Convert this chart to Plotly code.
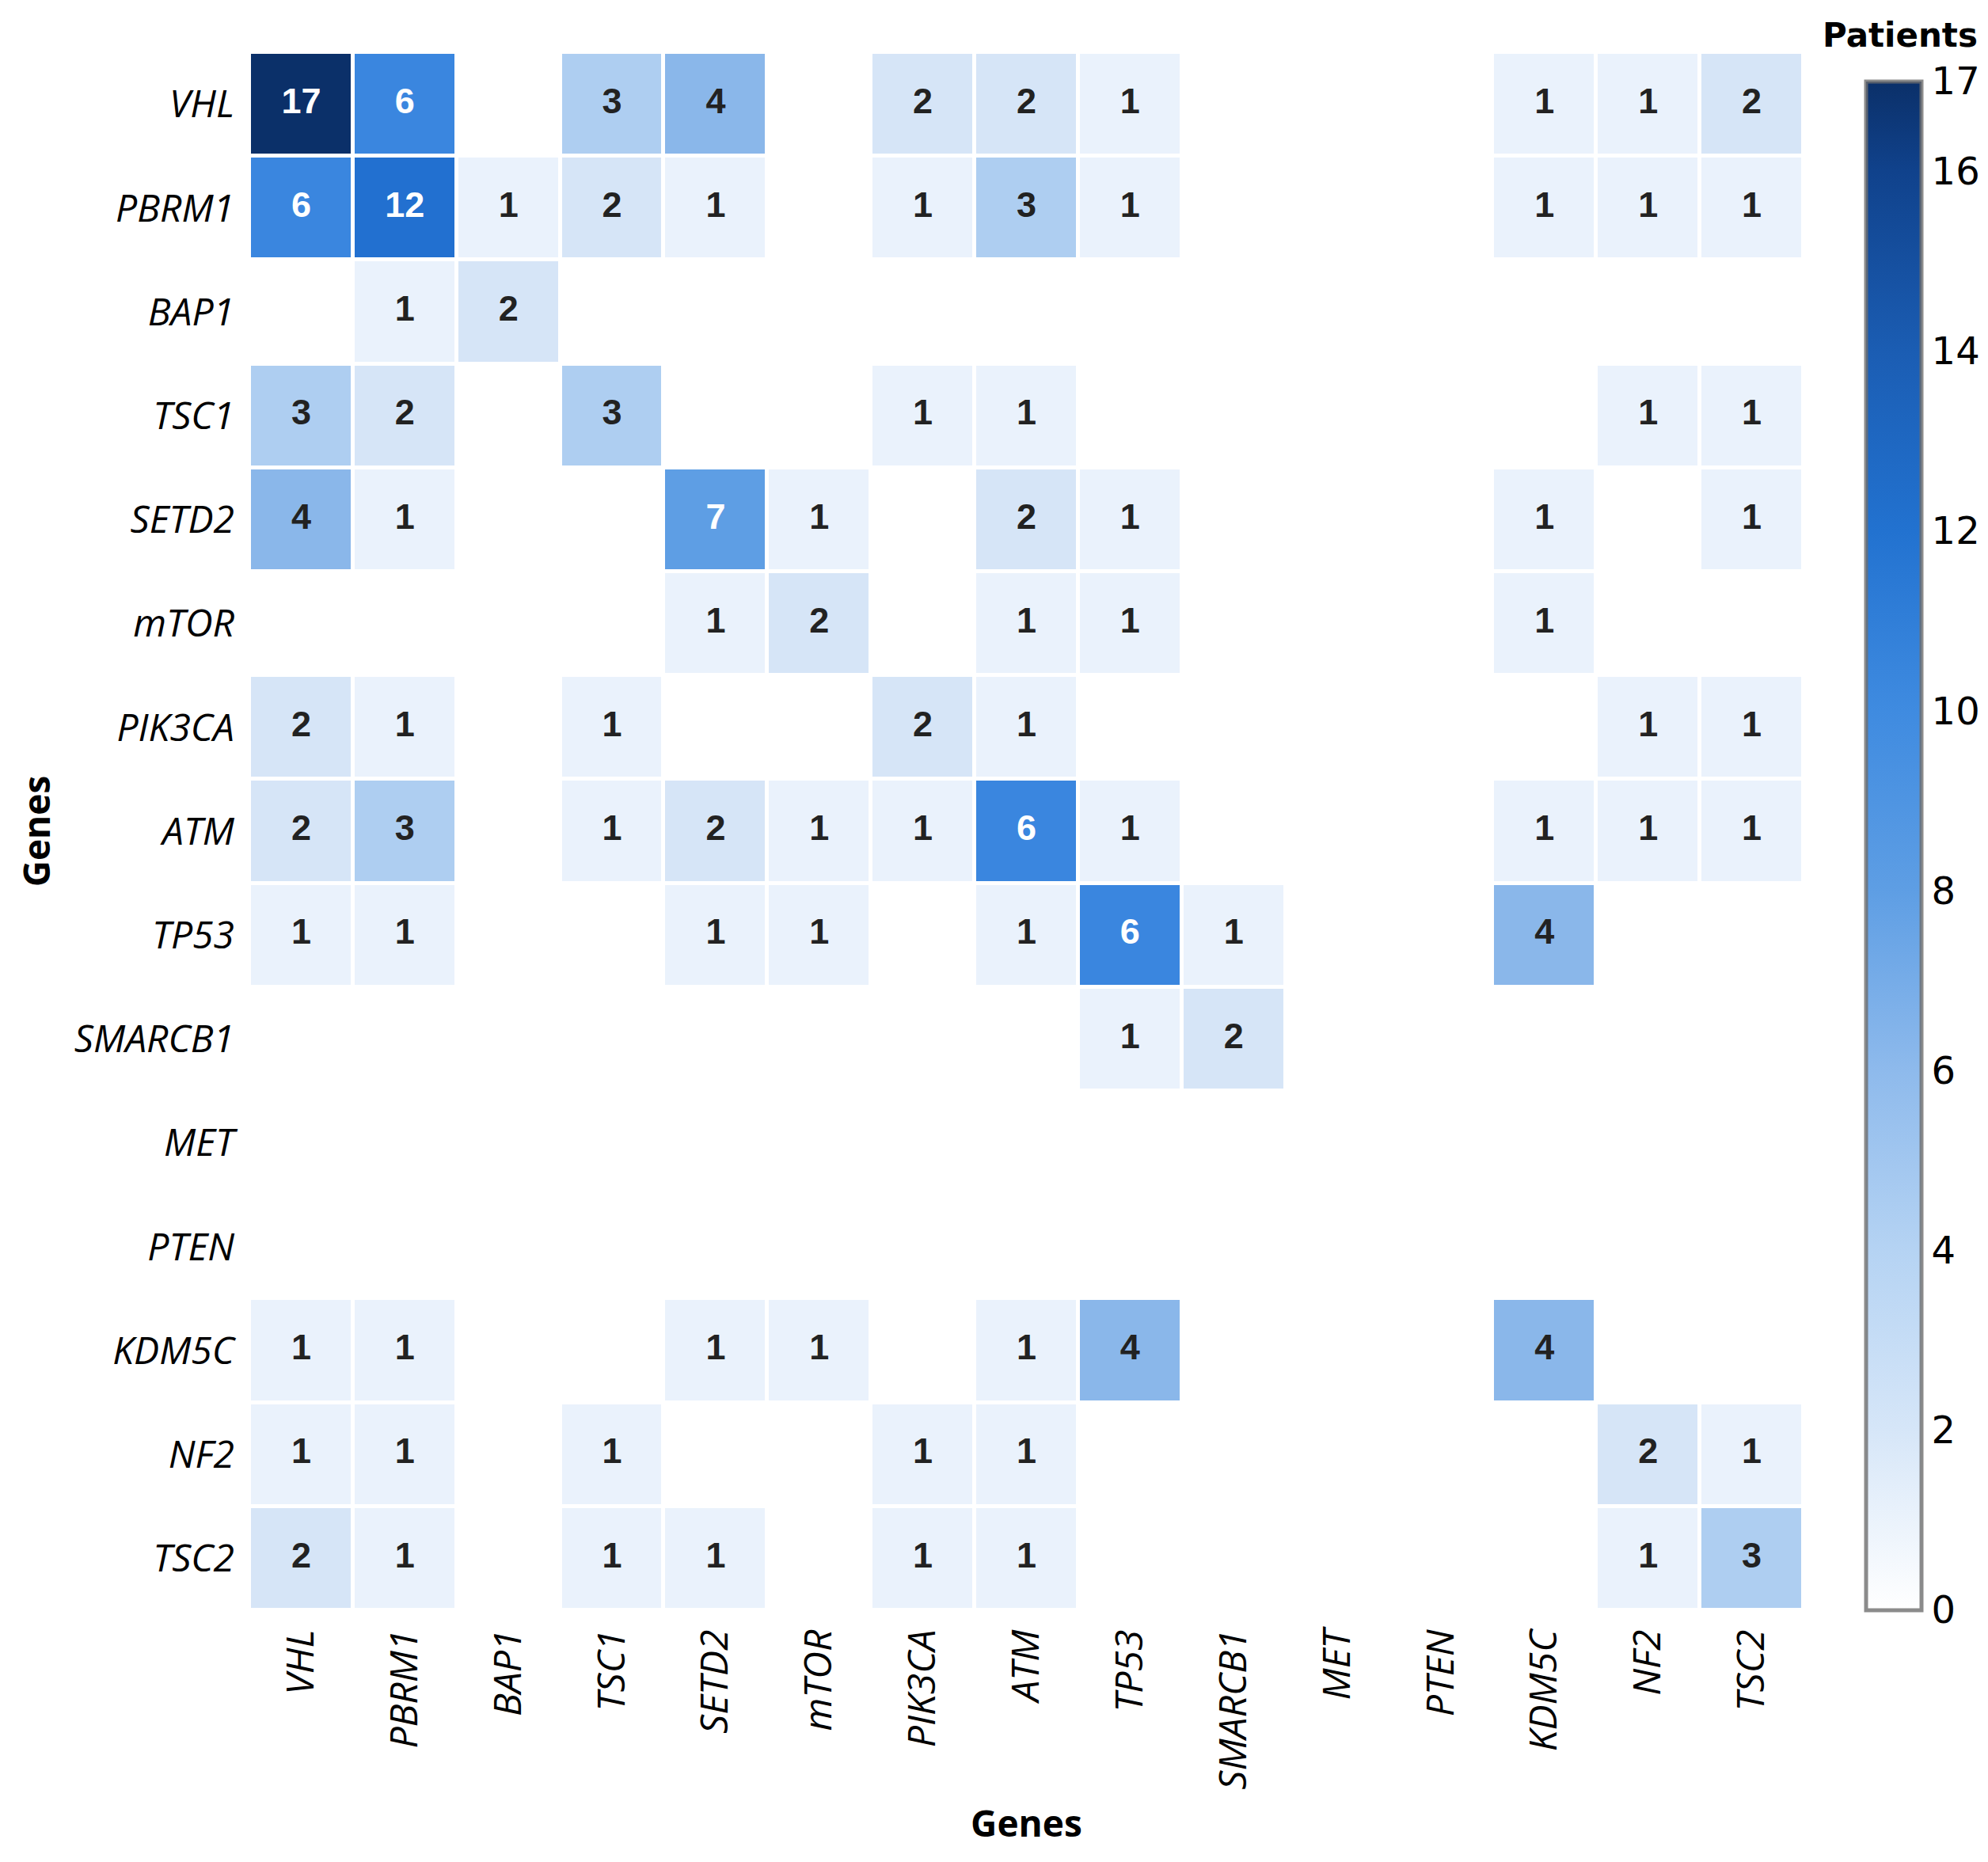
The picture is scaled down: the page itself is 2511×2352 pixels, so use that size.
import plotly.graph_objects as go

# genes on both axes (same order top->bottom and left->right)
genes = ["VHL", "PBRM1", "BAP1", "TSC1", "SETD2", "mTOR", "PIK3CA", "ATM",
         "TP53", "SMARCB1", "MET", "PTEN", "KDM5C", "NF2", "TSC2"]

# co-occurrence counts (None = no patients)
N = None
co_counts = [
    [17, 6, N, 3, 4, N, 2, 2, 1, N, N, N, 1, 1, 2],   # VHL
    [6, 12, 1, 2, 1, N, 1, 3, 1, N, N, N, 1, 1, 1],   # PBRM1
    [N, 1, 2, N, N, N, N, N, N, N, N, N, N, N, N],    # BAP1
    [3, 2, N, 3, N, N, 1, 1, N, N, N, N, N, 1, 1],    # TSC1
    [4, 1, N, N, 7, 1, N, 2, 1, N, N, N, 1, N, 1],    # SETD2
    [N, N, N, N, 1, 2, N, 1, 1, N, N, N, 1, N, N],    # mTOR
    [2, 1, N, 1, N, N, 2, 1, N, N, N, N, N, 1, 1],    # PIK3CA
    [2, 3, N, 1, 2, 1, 1, 6, 1, N, N, N, 1, 1, 1],    # ATM
    [1, 1, N, N, 1, 1, N, 1, 6, 1, N, N, 4, N, N],    # TP53
    [N, N, N, N, N, N, N, N, 1, 2, N, N, N, N, N],    # SMARCB1
    [N, N, N, N, N, N, N, N, N, N, N, N, N, N, N],    # MET
    [N, N, N, N, N, N, N, N, N, N, N, N, N, N, N],    # PTEN
    [1, 1, N, N, 1, 1, N, 1, 4, N, N, N, 4, N, N],    # KDM5C
    [1, 1, N, 1, N, N, 1, 1, N, N, N, N, N, 2, 1],    # NF2
    [2, 1, N, 1, 1, N, 1, 1, N, N, N, N, N, 1, 3],    # TSC2
]

cbar_ticks = [0, 2, 4, 6, 8, 10, 12, 14, 16, 17]
zmax = 17

# colours seen on the cells
cell_scale = [
    [0.0, "#ffffff"],
    [1 / 17, "#eaf2fc"],
    [2 / 17, "#d6e5f7"],
    [3 / 17, "#aecef1"],
    [4 / 17, "#8ab7ea"],
    [6 / 17, "#3a86df"],
    [7 / 17, "#5e9ee4"],
    [12 / 17, "#2270d0"],
    [1.0, "#0b3069"],
]

# colours seen on the colour bar
bar_scale = [
    [0.0, "#ffffff"],
    [2 / 17, "#d6e6f8"],
    [4 / 17, "#b5d3f3"],
    [6 / 17, "#8ebaec"],
    [8 / 17, "#5e9ee4"],
    [10 / 17, "#3f8be0"],
    [12 / 17, "#2272d0"],
    [14 / 17, "#1b5db3"],
    [16 / 17, "#10428c"],
    [1.0, "#0b3069"],
]

fig = go.Figure()

# invisible trace, only there to carry the colour bar
fig.add_trace(go.Heatmap(
    z=co_counts, x=genes, y=genes,
    zmin=0, zmax=zmax,
    colorscale=bar_scale,
    opacity=0,
    xgap=5, ygap=5,
    hoverinfo="skip",
    colorbar=dict(
        tickvals=cbar_ticks,
        ticktext=[str(t) for t in cbar_ticks],
        tickfont=dict(family="DejaVu Sans", size=48, color="black"),
        thickness=70,
        outlinewidth=5,
        outlinecolor="rgba(110,110,110,0.8)",
        x=1.035, xanchor="left", xpad=10,
        y=0.9814, yanchor="top", len=0.9814, ypad=0,
        ticks="",
    ),
))

fig.add_trace(go.Heatmap(
    z=co_counts, x=genes, y=genes,
    zmin=0, zmax=zmax,
    colorscale=cell_scale,
    showscale=False,
    xgap=5, ygap=5,
    hovertemplate="%{y} / %{x}: %{z}<extra></extra>",
))

# cell labels
tx, ty, tt, tc = [], [], [], []
for i, row in enumerate(co_counts):
    for j, v in enumerate(row):
        if v is None:
            continue
        tx.append(genes[j])
        ty.append(genes[i])
        tt.append(str(v))
        tc.append("white" if v >= 6 else "#222222")

fig.add_trace(go.Scatter(
    x=tx, y=ty, text=tt, mode="text",
    textfont=dict(family="Liberation Sans", size=45, color=tc, weight="bold"),
    hoverinfo="skip", showlegend=False,
))

n = len(genes)

fig.update_layout(
    width=2511, height=2352,
    margin=dict(l=307, r=241, t=58, b=326, autoexpand=False),
    plot_bgcolor="white",
    paper_bgcolor="white",
    showlegend=False,
    annotations=[dict(
        text="<b>Patients</b>", xref="paper", yref="paper",
        x=1.062, y=1.011, xanchor="center", yanchor="middle",
        showarrow=False,
        font=dict(family="DejaVu Sans", size=42, color="black"),
    )],
)

fig.update_xaxes(
    title=dict(text="<b>Genes</b>", standoff=28,
               font=dict(family="Open Sans", size=46, color="black")),
    range=[-0.5, n - 0.5],
    tickangle=-90,
    tickfont=dict(family="Open Sans", size=48, color="black", style="italic"),
    showgrid=False, zeroline=False, showline=False, ticks="",
    ticklabelstandoff=14, automargin=False,
)

fig.update_yaxes(
    title=dict(text="<b>Genes</b>", standoff=15,
               font=dict(family="Open Sans", size=46, color="black")),
    range=[n - 0.5, -0.5],
    tickfont=dict(family="Open Sans", size=48, color="black", style="italic"),
    showgrid=False, zeroline=False, showline=False, ticks="",
    ticklabelstandoff=18, automargin=False,
)

fig.write_html("out.html")
